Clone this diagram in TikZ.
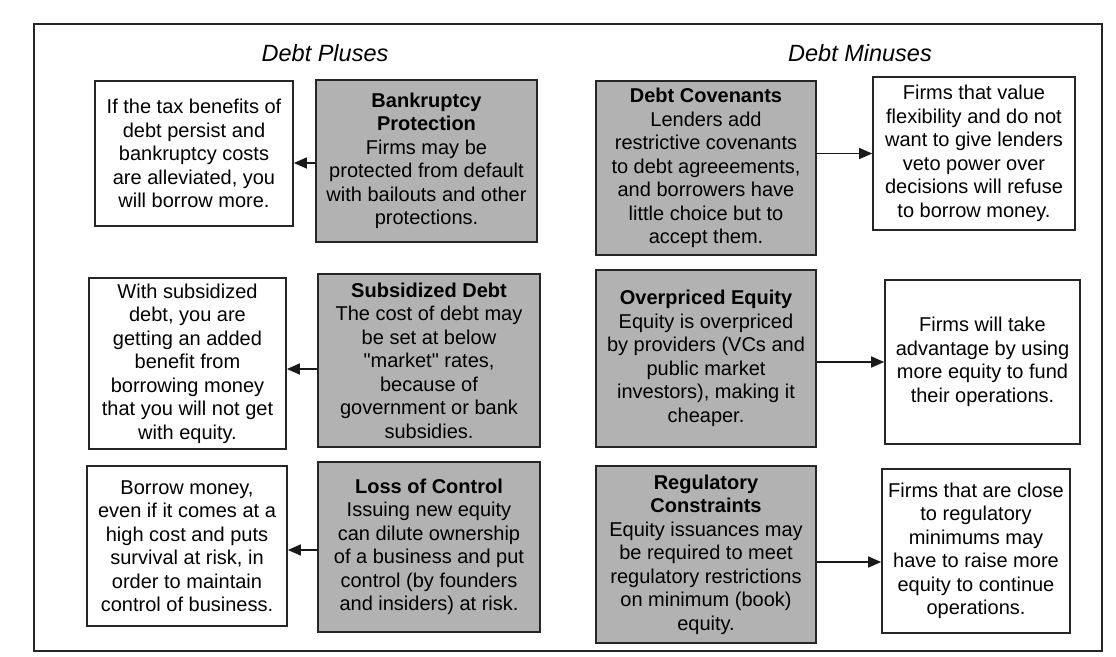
\documentclass[tikz,border=0pt]{standalone}
\usepackage{fontspec}
\setmainfont{Liberation Sans}[Ligatures=TeXOff]
\usetikzlibrary{calc,positioning,arrows.meta}

\tikzset{
  wbox/.style={rectangle, draw=black!85, line width=1.7pt, fill=white, align=center,
    inner sep=0pt, font=\fontsize{20}{23.5}\selectfont},
  gbox/.style={wbox, fill=black!30},
  ttl/.style={font=\fontsize{23.5}{28}\selectfont\itshape},
  arr/.style={draw=black!90, line width=1.6pt, -{Triangle[length=13pt,width=11pt]}}
}

\begin{document}
\begin{tikzpicture}[x=1pt,y=-1pt]
  \useasboundingbox (0,0) rectangle (1116,656);
  \draw [draw=black!85, line width=1.8pt] (34,24) rectangle (1102,651);

  \node [ttl] (pl) at (325,53) {Debt Pluses};
  \node [ttl] (mi) at (860,53) {Debt Minuses};

  % debt pluses
  \node [wbox, minimum width=198pt, minimum height=145pt] (a1) at (194,153.5)
    {If the tax benefits of\\debt persist and\\bankruptcy costs\\are alleviated, you\\will borrow more.};
  \node [gbox, minimum width=221pt, minimum height=162pt] (b1) at (426.5,161)
    {\textbf{Bankruptcy}\\\textbf{Protection}\\Firms may be\\protected from default\\with bailouts and other\\protections.};
  \node [wbox, minimum width=197pt, minimum height=171pt] (a2) at (187.5,363.5)
    {With subsidized\\debt, you are\\getting an added\\benefit from\\borrowing money\\that you will not get\\with equity.};
  \node [gbox, minimum width=222pt, minimum height=173pt] (b2) at (429,360.5)
    {\textbf{Subsidized Debt}\\The cost of debt may\\be set at below\\"market" rates,\\because of\\government or bank\\subsidies.};
  \node [wbox, minimum width=200pt, minimum height=160pt] (a3) at (187,546)
    {Borrow money,\\even if it comes at a\\high cost and puts\\survival at risk, in\\order to maintain\\control of business.};
  \node [gbox, minimum width=222pt, minimum height=170pt] (b3) at (429,547)
    {\textbf{Loss of Control}\\Issuing new equity\\can dilute ownership\\of a business and put\\control (by founders\\and insiders) at risk.};

  % debt minuses
  \node [gbox, minimum width=220pt, minimum height=174pt] (c1) at (706,168)
    {\textbf{Debt Covenants}\\Lenders add\\restrictive covenants\\to debt agreeements,\\and borrowers have\\little choice but to\\accept them.};
  \node [wbox, minimum width=202pt, minimum height=153pt] (d1) at (974,153.5)
    {Firms that value\\flexibility and do not\\want to give lenders\\veto power over\\decisions will refuse\\to borrow money.};
  \node [gbox, minimum width=220pt, minimum height=177pt] (c2) at (706,358.5)
    {\textbf{Overpriced Equity}\\Equity is overpriced\\by providers (VCs and\\public market\\investors), making it\\cheaper.};
  \node [wbox, minimum width=195pt, minimum height=164pt] (d2) at (982.5,362)
    {Firms will take\\advantage by using\\more equity to fund\\their operations.};
  \node [gbox, minimum width=220pt, minimum height=177pt] (c3) at (706,554.5)
    {\textbf{Regulatory}\\\textbf{Constraints}\\Equity issuances may\\be required to meet\\regulatory restrictions\\on minimum (book)\\equity.};
  \node [wbox, minimum width=188pt, minimum height=164pt] (d3) at (976,551)
    {Firms that are close\\to regulatory\\minimums may\\have to raise more\\equity to continue\\operations.};

  \draw [arr] ([yshift=-2pt]b1.west) -- ([yshift=-2pt]b1.west -| a1.east);
  \draw [arr] ([yshift=-8.5pt]b2.west) -- ([yshift=-8.5pt]b2.west -| a2.east);
  \draw [arr] ([yshift=-3pt]b3.west) -- ([yshift=-3pt]b3.west -| a3.east);
  \draw [arr] (d1.west -| c1.east) -- (d1.west);
  \draw [arr] (d2.west -| c2.east) -- (d2.west);
  \draw [arr] ([yshift=-7.5pt]c3.east) -- ([yshift=-7.5pt]c3.east -| d3.west);
\end{tikzpicture}
\end{document}
